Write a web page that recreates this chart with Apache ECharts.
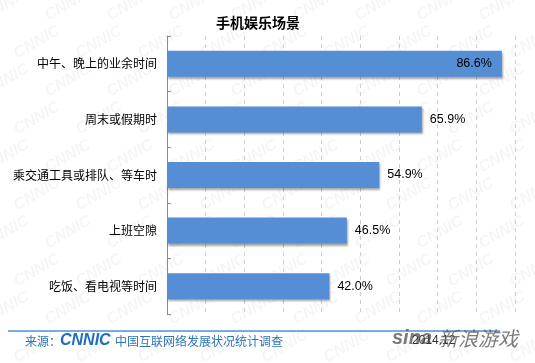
<!DOCTYPE html>
<html><head><meta charset="utf-8">
<script src="https://cdn.jsdelivr.net/npm/echarts@6/dist/echarts.min.js"></script>
<style>html,body{margin:0;padding:0;background:#fff}#c{width:535px;height:363px}</style>
</head><body><div id="c"></div>
<script>
const titleText = '手机娱乐场景';
const categories = ['中午、晚上的业余时间','周末或假期时','乘交通工具或排队、等车时','上班空隙','吃饭、看电视等时间'];
const values = [86.6, 65.9, 54.9, 46.5, 42.0];
const axisMax = 90, axisInterval = 10;
const sourceLabel = '来源：';
const sourceName = '中国互联网络发展状况统计调查';
const dateText = '2014.12';

const chart = echarts.init(document.getElementById('c'), null, {renderer:'canvas'});
const wm = [];
for (let r = 0; r < 10; r++) {
  for (let c = 0; c < 10; c++) {
    wm.push({type:'text', x: -20 + c*62 + (r%2)*31, y: r*38 + 10, rotation: Math.PI/6, z: 0,
      style:{text:'CNNIC', font:'italic bold 16px Arial', fill:'rgba(0,0,0,0.04)'}});
  }
}
chart.setOption({
  animation:false,
  title:{text:titleText, left:253, top:11, textAlign:'center',
    textStyle:{fontSize:14, fontWeight:'bold', color:'#000', fontFamily:'Noto Sans CJK SC'}},
  grid:{left:167, right:20, top:36, bottom:49, containLabel:false},
  xAxis:{type:'value', min:0, max:axisMax, interval:axisInterval,
    axisLine:{show:false}, axisTick:{show:false}, axisLabel:{show:false},
    splitLine:{show:true, lineStyle:{type:[4,4], color:'#cfcfcf', width:1}}},
  yAxis:{type:'category', data:categories, inverse:true,
    axisLine:{show:true, lineStyle:{color:'#8c8c8c', width:1}},
    axisTick:{show:true, inside:true, length:4, lineStyle:{color:'#8c8c8c'}},
    axisLabel:{color:'#000', fontSize:12, margin:10, fontFamily:'Noto Sans CJK SC'}},
  series:[{type:'bar', data: values.map((v,i)=> i===0 ? {value:v, label:{position:'insideRight', distance:10}} : v),
    barWidth:26,
    itemStyle:{color:'#558ed5', shadowColor:'rgba(0,0,0,0.35)', shadowBlur:2, shadowOffsetX:1, shadowOffsetY:2},
    label:{show:true, position:'right', distance:8, color:'#000', fontSize:12.5, fontFamily:'Arial',
      formatter: p => p.value.toFixed(1) + '%'}}],
  graphic: wm.concat([
    {type:'line', shape:{x1:8, y1:331, x2:500, y2:331}, style:{stroke:'#558ed5', lineWidth:1.5}},
    {type:'text', x:25, y:335, style:{text:sourceLabel, font:'12px "Noto Sans CJK SC"', fill:'#2e75b6'}},
    {type:'text', x:60, y:333, style:{text:'CNNIC', font:'italic bold 16px Arial', fill:'#1f6fc0'}},
    {type:'text', x:115, y:335, style:{text:sourceName, font:'12px "Noto Sans CJK SC"', fill:'#2e75b6'}},
    {type:'text', x:392, y:328, style:{text:'sina', font:'italic bold 20px Arial', fill:'rgba(90,90,90,0.8)'}},
    {type:'text', x:412, y:335, style:{text:dateText, font:'12px Arial', fill:'#333'}},
    {type:'text', x:438, y:328, style:{text:'新浪游戏', font:'italic 20px "Noto Sans CJK SC"', fill:'rgba(90,90,90,0.8)'}}
  ])
});
</script></body></html>
